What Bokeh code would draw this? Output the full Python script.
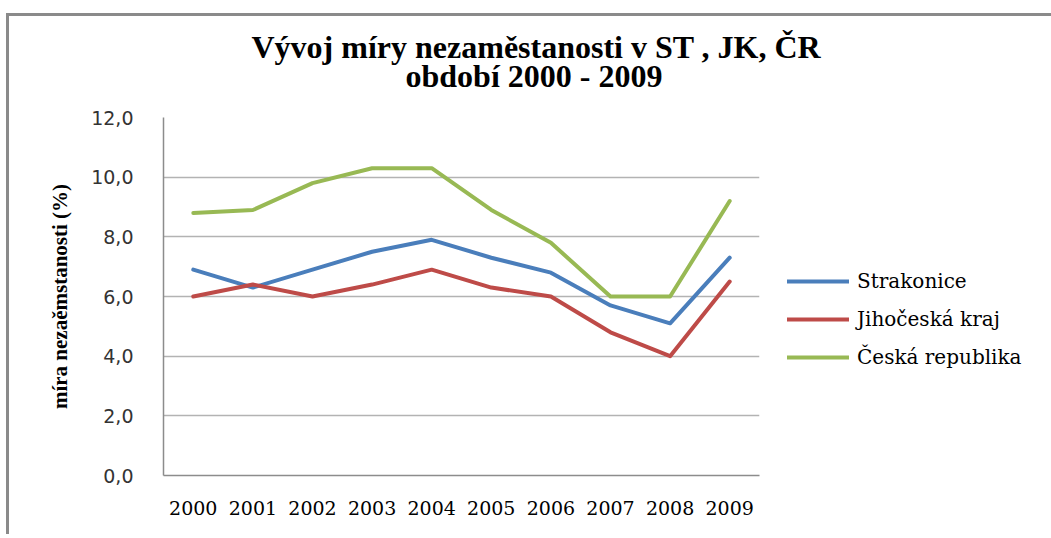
from bokeh.plotting import figure
from bokeh.models import (Range1d, FactorRange, FixedTicker, Title, Legend, LegendItem)
from bokeh.embed import file_html
from bokeh.resources import INLINE

years = ["2000", "2001", "2002", "2003", "2004", "2005", "2006", "2007", "2008", "2009"]
strakonice = [6.9, 6.3, 6.9, 7.5, 7.9, 7.3, 6.8, 5.7, 5.1, 7.3]
jihocesky = [6.0, 6.4, 6.0, 6.4, 6.9, 6.3, 6.0, 4.8, 4.0, 6.5]
cr = [8.8, 8.9, 9.8, 10.3, 10.3, 8.9, 7.8, 6.0, 6.0, 9.2]
series_names = ["Strakonice", "Jihočeská kraj", "Česká republika"]
series_colors = ["#4a7ebb", "#be4b48", "#98b954"]
y_ticks = [0, 2, 4, 6, 8, 10, 12]
y_tick_labels = ["0,0", "2,0", "4,0", "6,0", "8,0", "10,0", "12,0"]
title_lines = ["Vývoj míry nezaměstanosti v ST , JK, ČR", "období 2000 -  2009"]
y_label = "míra nezaěmstanosti (%)"

BL, BT, BB, FW, FH = 154, 101, 59, 596, 358
p = figure(frame_width=FW, frame_height=FH, x_range=FactorRange(*years), y_range=Range1d(0, 12),
           output_backend="svg", toolbar_location=None,
           min_border_left=BL, min_border_right=0,
           min_border_top=BT, min_border_bottom=BB,
           styles={"border-left": "3px solid #8a8a8a", "border-top": "3px solid #8a8a8a",
                   "margin-top": "13px", "margin-left": "6px"})
p.outline_line_color = None
p.background_fill_color = "white"

renderers = []
for vals, col in zip([strakonice, jihocesky, cr], series_colors):
    r = p.line(years, vals, line_color=col, line_width=4, line_join="round", line_cap="round")
    renderers.append(r)

# axes
p.xgrid.grid_line_color = None
p.ygrid.grid_line_color = "#b3b3b3"
p.ygrid.grid_line_width = 1.5
p.yaxis.ticker = FixedTicker(ticks=y_ticks)
p.yaxis.major_label_overrides = {t: l for t, l in zip(y_ticks, y_tick_labels)}
p.yaxis.axis_line_color = "#8c8c8c"
p.yaxis.axis_line_width = 1.5
p.yaxis.major_tick_line_color = None
p.yaxis.minor_tick_line_color = None
p.yaxis.major_label_text_font = "DejaVu Sans"
p.yaxis.major_label_text_font_size = "19px"
p.yaxis.major_label_text_color = "#333333"
p.yaxis.major_label_standoff = 24
p.yaxis.axis_label = y_label
p.yaxis.axis_label_text_font = "Liberation Serif"
p.yaxis.axis_label_text_font_style = "bold"
p.yaxis.axis_label_text_font_size = "21px"
p.yaxis.axis_label_text_color = "black"
p.yaxis.axis_label_standoff = 16

p.xaxis.axis_line_color = "#8c8c8c"
p.xaxis.axis_line_width = 1.5
p.xaxis.major_tick_line_color = None
p.xaxis.minor_tick_line_color = None
p.xaxis.major_label_text_font = "DejaVu Serif"
p.xaxis.major_label_text_font_size = "19px"
p.xaxis.major_label_text_color = "black"
p.xaxis.major_label_standoff = 19

# title: two lines, the one nearest the frame added first
t2 = Title(text=title_lines[1], align="left", offset=242, standoff=48,
           text_font="Liberation Serif", text_font_style="bold", text_font_size="32px",
           text_color="black")
t1 = Title(text=title_lines[0], align="left", offset=88, standoff=-66,
           text_font="Liberation Serif", text_font_style="bold", text_font_size="32px",
           text_color="black")
p.add_layout(t2, "above")
p.add_layout(t1, "above")

legend = Legend(items=[LegendItem(label=n, renderers=[r]) for n, r in zip(series_names, renderers)],
                location="center_left", padding=0, margin=28, spacing=14, glyph_width=62,
                glyph_height=24, label_height=24, label_standoff=8,
                label_text_font="DejaVu Serif", label_text_font_size="20px",
                label_text_color="black", border_line_color=None, background_fill_alpha=0,
                title=" ", title_text_font_size="1px", title_standoff=45)
p.add_layout(legend, "right")

open("out.html", "w").write(file_html(p, INLINE))
